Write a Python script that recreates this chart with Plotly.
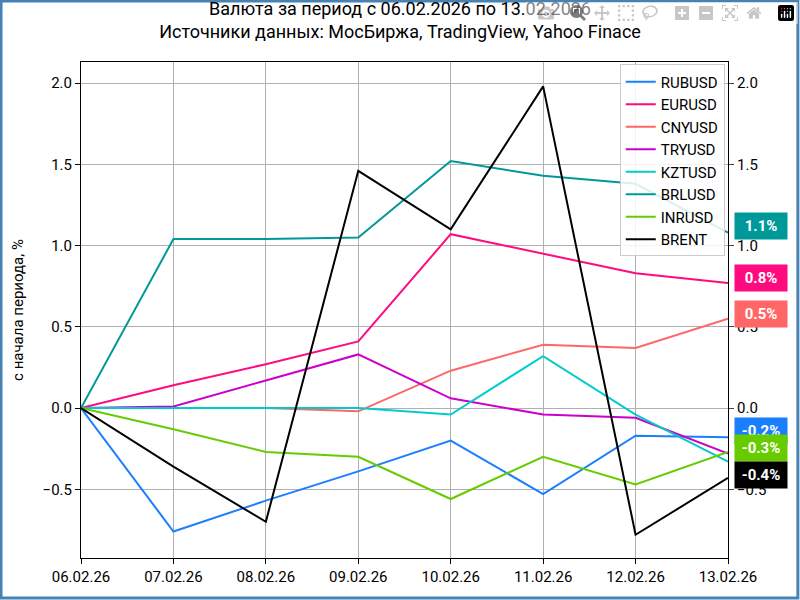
import plotly.graph_objects as go

dates = ["06.02.26","07.02.26","08.02.26","09.02.26","10.02.26","11.02.26","12.02.26","13.02.26"]
names = ["RUBUSD","EURUSD","CNYUSD","TRYUSD","KZTUSD","BRLUSD","INRUSD","BRENT"]
colors = ["#1a7fff","#ff0a7f","#ff6666","#cc00cc","#00cccc","#009999","#66cc00","#000000"]
rub = [0,-0.76,-0.57,-0.39,-0.20,-0.53,-0.17,-0.18]
eur = [0,0.14,0.27,0.41,1.07,0.95,0.83,0.77]
cny = [0,0,0,-0.02,0.23,0.39,0.37,0.55]
tur = [0,0.01,0.17,0.33,0.06,-0.04,-0.06,-0.28]
kzt = [0,0,0,0,-0.04,0.32,-0.04,-0.33]
brl = [0,1.04,1.04,1.05,1.52,1.43,1.38,1.08]
inr = [0,-0.13,-0.27,-0.30,-0.56,-0.30,-0.47,-0.27]
brent = [0,-0.36,-0.70,1.46,1.10,1.98,-0.78,-0.43]
series = [rub,eur,cny,tur,kzt,brl,inr,brent]
label_text = ["1.1%","0.8%","0.5%","-0.2%","-0.3%","-0.4%"]
label_idx = [5,1,2,0,6,7]
label_y = [1.12,0.80,0.58,-0.14,-0.245,-0.41]

yr = [-0.923,2.13]
fig = go.Figure()
for n,c,s in zip(names,colors,series):
    fig.add_trace(go.Scatter(x=list(range(len(dates))),y=s,name=n,mode="lines",line=dict(color=c,width=2)))
fig.add_trace(go.Scatter(x=[0],y=[0],yaxis="y2",showlegend=False,mode="markers",marker=dict(opacity=0)))
for t,i,y in zip(label_text,label_idx,label_y):
    fig.add_annotation(xref="paper",yref="y",x=1.010,y=y,xanchor="left",text="<b>"+t+"</b>",showarrow=False,
        bgcolor=colors[i],font=dict(color="white",size=15,family="Roboto"),borderpad=4,width=44)
fig.add_shape(type="rect",xref="paper",yref="paper",x0=-0.1236,x1=1.108,y0=-0.0806,y1=1.123,
    line=dict(color="#4682b4",width=3))
ax = dict(showgrid=True,gridcolor="#b0b0b0",linecolor="black",ticks="outside",ticklen=5,tickcolor="black",
    tickfont=dict(size=15,color="black"),zeroline=False,automargin=False)
fig.update_layout(
    width=800,height=600,plot_bgcolor="white",paper_bgcolor="white",
    font=dict(family="Roboto",color="black"),
    margin=dict(l=81,r=72,t=62,b=42,autoexpand=False),
    title=dict(text="Валюта за период с 06.02.2026 по 13.02.2026<br>Источники данных: МосБиржа, TradingView, Yahoo Finace",
        x=0.5,xanchor="center",y=0.975,yanchor="top",yref="container",font=dict(size=18)),
    xaxis=dict(ax,range=[0,7],tickvals=list(range(8)),ticktext=dates,mirror=True),
    yaxis=dict(ax,range=yr,tickvals=[-0.5,0,0.5,1,1.5,2],ticktext=["−0.5","0.0","0.5","1.0","1.5","2.0"],
        title=dict(text="с начала периода, %",font=dict(size=15)),mirror=True),
    yaxis2=dict(range=yr,overlaying="y",side="right",tickvals=[-0.5,0,0.5,1,1.5,2],
        ticktext=["−0.5","0.0","0.5","1.0","1.5","2.0"],showgrid=False,ticks="outside",ticklen=5,
        tickfont=dict(size=15,color="black"),zeroline=False,automargin=False),
    legend=dict(x=0.995,y=0.995,xanchor="right",yanchor="top",bordercolor="#cccccc",borderwidth=1,
        bgcolor="rgba(255,255,255,0.85)",font=dict(size=15)),
)
fig.write_html("out.html",post_script="document.body.style.margin='0';document.body.style.overflow='hidden';window.scrollTo(0,0);")
